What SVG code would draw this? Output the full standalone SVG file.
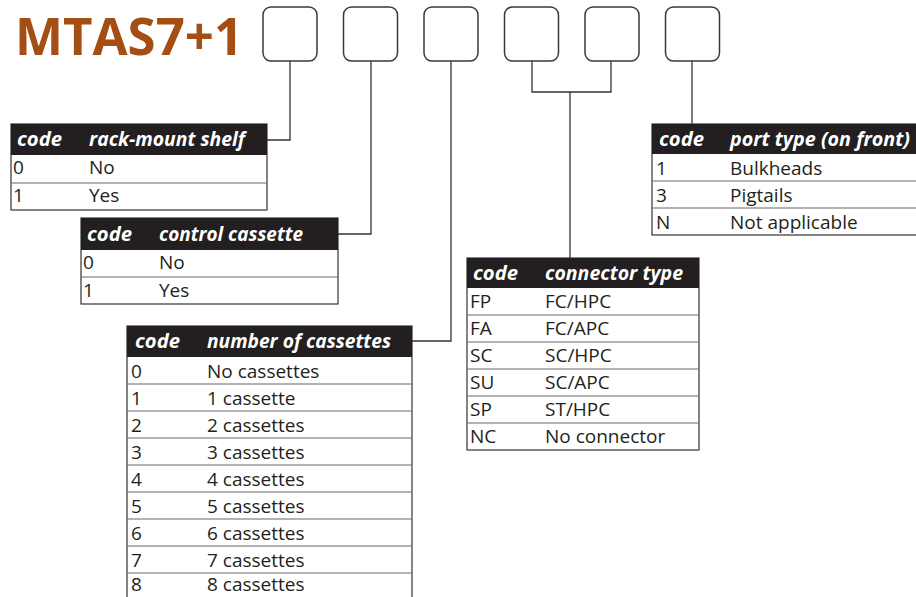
<svg xmlns="http://www.w3.org/2000/svg" width="916" height="597" viewBox="0 0 916 597">
<style>
.title{font-family:"Open Sans","Noto Sans",sans-serif;font-weight:bold;font-size:52px;fill:#a54e13}
.box{fill:#fff;stroke:#3a3a3a;stroke-width:1.5}
.conn{fill:none;stroke:#333;stroke-width:1.3}
.hdr{fill:#231f20}
.frame{fill:#fff;stroke:#333;stroke-width:1.2}
.sep{stroke:#666;stroke-width:1}
.ht{font-family:"Open Sans","Noto Sans",sans-serif;font-weight:bold;font-style:italic;font-size:20px;fill:#fff}
.rt{font-family:"Open Sans","Noto Sans",sans-serif;font-size:19px;fill:#231f20}
</style>
<rect width="916" height="597" fill="#fff"/>
<text class="title" x="15" y="55" textLength="228" lengthAdjust="spacingAndGlyphs">MTAS7+1</text>
<g id="boxes">
<rect id="box1" class="box" x="263" y="7" width="54" height="54" rx="8"/>
<rect id="box2" class="box" x="343.5" y="7" width="54" height="54" rx="8"/>
<rect id="box3" class="box" x="424" y="7" width="54" height="54" rx="8"/>
<rect id="box4" class="box" x="504.5" y="7" width="54" height="54" rx="8"/>
<rect id="box5" class="box" x="585" y="7" width="54" height="54" rx="8"/>
<rect id="box6" class="box" x="665.5" y="7" width="54" height="54" rx="8"/>
</g>
<g id="connectors">
<polyline class="conn" points="290,61 290,140 267,140"/>
<polyline class="conn" points="371,61 371,234 338,234"/>
<polyline class="conn" points="451,61 451,341 412,341"/>
<polyline class="conn" points="532,61 532,92 611,92 611,61"/>
<line class="conn" x1="570" y1="92" x2="570" y2="258"/>
<line class="conn" x1="692" y1="61" x2="692" y2="124"/>
</g>
<g id="table-rack">
<rect class="frame" x="11" y="124" width="256" height="86"/>
<rect class="hdr" x="11" y="124" width="256" height="31"/>
<line class="sep" x1="11" y1="183" x2="267" y2="183"/>
<text class="ht" x="17" y="146" textLength="45" lengthAdjust="spacingAndGlyphs">code</text>
<text class="ht" x="89" y="146" textLength="156" lengthAdjust="spacingAndGlyphs">rack-mount shelf</text>
<text class="rt" x="13" y="174">0</text><text class="rt" x="89" y="174">No</text>
<text class="rt" x="13" y="202">1</text><text class="rt" x="89" y="202">Yes</text>
</g>
<g id="table-control">
<rect class="frame" x="81" y="218" width="257" height="86"/>
<rect class="hdr" x="81" y="218" width="257" height="32"/>
<line class="sep" x1="81" y1="277" x2="338" y2="277"/>
<text class="ht" x="87" y="241" textLength="45" lengthAdjust="spacingAndGlyphs">code</text>
<text class="ht" x="159" y="241" textLength="144" lengthAdjust="spacingAndGlyphs">control cassette</text>
<text class="rt" x="83" y="269">0</text><text class="rt" x="159" y="269">No</text>
<text class="rt" x="83" y="297">1</text><text class="rt" x="159" y="297">Yes</text>
</g>
<g id="table-number">
<rect class="frame" x="127" y="326" width="285" height="274"/>
<rect class="hdr" x="127" y="326" width="285" height="31"/>
<g class="sep">
<line x1="127" y1="384" x2="412" y2="384"/>
<line x1="127" y1="411" x2="412" y2="411"/>
<line x1="127" y1="438" x2="412" y2="438"/>
<line x1="127" y1="465" x2="412" y2="465"/>
<line x1="127" y1="492" x2="412" y2="492"/>
<line x1="127" y1="519" x2="412" y2="519"/>
<line x1="127" y1="546" x2="412" y2="546"/>
<line x1="127" y1="573" x2="412" y2="573"/>
</g>
<text class="ht" x="135" y="348" textLength="45" lengthAdjust="spacingAndGlyphs">code</text>
<text class="ht" x="207" y="348" textLength="184" lengthAdjust="spacingAndGlyphs">number of cassettes</text>
<text class="rt" x="131" y="378">0</text><text class="rt" x="207" y="378">No cassettes</text>
<text class="rt" x="131" y="405">1</text><text class="rt" x="207" y="405">1 cassette</text>
<text class="rt" x="131" y="432">2</text><text class="rt" x="207" y="432">2 cassettes</text>
<text class="rt" x="131" y="459">3</text><text class="rt" x="207" y="459">3 cassettes</text>
<text class="rt" x="131" y="486">4</text><text class="rt" x="207" y="486">4 cassettes</text>
<text class="rt" x="131" y="513">5</text><text class="rt" x="207" y="513">5 cassettes</text>
<text class="rt" x="131" y="540">6</text><text class="rt" x="207" y="540">6 cassettes</text>
<text class="rt" x="131" y="567">7</text><text class="rt" x="207" y="567">7 cassettes</text>
<text class="rt" x="131" y="591">8</text><text class="rt" x="207" y="591">8 cassettes</text>
</g>
<g id="table-connector">
<rect class="frame" x="467" y="258" width="232" height="192"/>
<rect class="hdr" x="467" y="258" width="232" height="30"/>
<g class="sep">
<line x1="467" y1="315" x2="699" y2="315"/>
<line x1="467" y1="342" x2="699" y2="342"/>
<line x1="467" y1="369" x2="699" y2="369"/>
<line x1="467" y1="396" x2="699" y2="396"/>
<line x1="467" y1="423" x2="699" y2="423"/>
</g>
<text class="ht" x="473" y="280" textLength="45" lengthAdjust="spacingAndGlyphs">code</text>
<text class="ht" x="545" y="280" textLength="138" lengthAdjust="spacingAndGlyphs">connector type</text>
<text class="rt" x="470" y="308">FP</text><text class="rt" x="545" y="308">FC/HPC</text>
<text class="rt" x="470" y="335">FA</text><text class="rt" x="545" y="335">FC/APC</text>
<text class="rt" x="470" y="362">SC</text><text class="rt" x="545" y="362">SC/HPC</text>
<text class="rt" x="470" y="389">SU</text><text class="rt" x="545" y="389">SC/APC</text>
<text class="rt" x="470" y="416">SP</text><text class="rt" x="545" y="416">ST/HPC</text>
<text class="rt" x="470" y="443">NC</text><text class="rt" x="545" y="443">No connector</text>
</g>
<g id="table-port">
<rect class="frame" x="652" y="124" width="270" height="111"/>
<rect class="hdr" x="652" y="124" width="270" height="30"/>
<g class="sep">
<line x1="652" y1="181" x2="922" y2="181"/>
<line x1="652" y1="208" x2="922" y2="208"/>
</g>
<text class="ht" x="659" y="146" textLength="45" lengthAdjust="spacingAndGlyphs">code</text>
<text class="ht" x="730" y="146" textLength="180" lengthAdjust="spacingAndGlyphs">port type (on front)</text>
<text class="rt" x="656" y="175">1</text><text class="rt" x="730" y="175">Bulkheads</text>
<text class="rt" x="656" y="202">3</text><text class="rt" x="730" y="202">Pigtails</text>
<text class="rt" x="656" y="229">N</text><text class="rt" x="730" y="229">Not applicable</text>
</g>
</svg>
